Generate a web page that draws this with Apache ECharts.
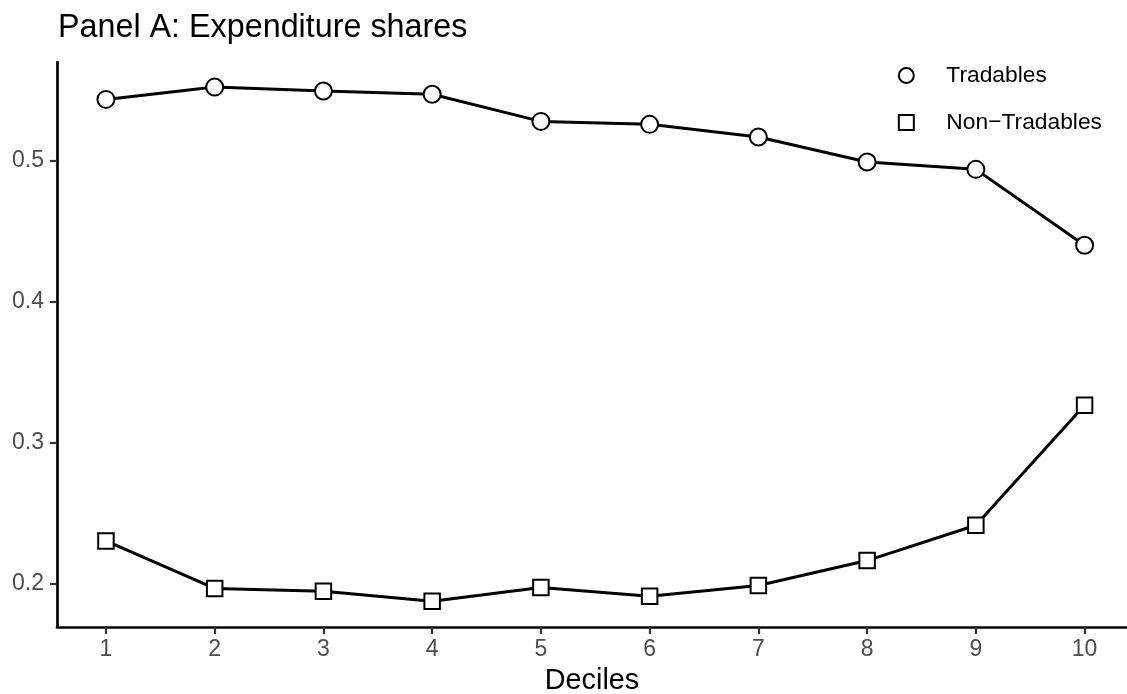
<!DOCTYPE html>
<html>
<head>
<meta charset="utf-8">
<script src="https://cdn.jsdelivr.net/npm/echarts@6/dist/echarts.min.js"></script>
<style>
html,body{margin:0;padding:0;background:#fff;overflow:hidden;}
#chart{width:1127px;height:694px;}
</style>
</head>
<body>
<div id="chart"></div>
<script>
const titleText = 'Panel A: Expenditure shares';
const xAxisTitle = 'Deciles';
const deciles = [1, 2, 3, 4, 5, 6, 7, 8, 9, 10];
const tradables = [0.5432, 0.5519, 0.5491, 0.5468, 0.5276, 0.5255, 0.5165, 0.4988, 0.4936, 0.4398];
const nonTradables = [0.2302, 0.1965, 0.1945, 0.1875, 0.1972, 0.1910, 0.1986, 0.2163, 0.2413, 0.3264];
const seriesNames = ['Tradables', 'Non\u2212Tradables'];
const xTicks = [1, 2, 3, 4, 5, 6, 7, 8, 9, 10];
const yTicks = [0.2, 0.3, 0.4, 0.5];

const FONT = '"Liberation Sans", Arial, Helvetica, sans-serif';
const markerStyle = { color: '#ffffff', borderColor: '#000000', borderWidth: 2 };

const chart = echarts.init(document.getElementById('chart'), null, { renderer: 'canvas' });
chart.setOption({
  animation: false,
  backgroundColor: '#ffffff',
  textStyle: { fontFamily: FONT },
  title: {
    text: titleText,
    left: 58,
    top: 12,
    padding: 0,
    textStyle: { fontFamily: FONT, fontSize: 32.3, fontWeight: 'normal', color: '#000000' }
  },
  legend: {
    orient: 'vertical',
    right: 20,
    top: 59,
    itemWidth: 70,
    itemHeight: 15,
    itemGap: 24,
    selectedMode: false,
    textStyle: { fontFamily: FONT, fontSize: 22.8, color: '#000000' },
    data: [
      { name: seriesNames[0], icon: 'circle', itemStyle: markerStyle },
      { name: seriesNames[1], icon: 'path://M0,0H10V10H0Z', itemStyle: markerStyle }
    ]
  },
  grid: { left: 57, right: 0, top: 62, height: 565, containLabel: false, outerBoundsMode: 'none' },
  xAxis: {
    type: 'value',
    min: 0.55,
    max: 10.39,
    name: xAxisTitle,
    nameLocation: 'middle',
    nameGap: 40,
    nameTextStyle: { fontFamily: FONT, fontSize: 28.8, color: '#000000' },
    axisLine: { show: true, onZero: false, lineStyle: { color: '#000000', width: 2.7 } },
    axisTick: { show: true, length: 7, customValues: xTicks, lineStyle: { color: '#333333', width: 2.2 } },
    axisLabel: { customValues: xTicks, margin: 11, fontFamily: FONT, fontSize: 23, color: '#4D4D4D' },
    splitLine: { show: false }
  },
  yAxis: {
    type: 'value',
    min: 0.1692,
    max: 0.5697,
    axisLine: { show: true, onZero: false, lineStyle: { color: '#000000', width: 2.7 } },
    axisTick: { show: true, length: 7, customValues: yTicks, lineStyle: { color: '#333333', width: 2.2 } },
    axisLabel: { customValues: yTicks, margin: 13, fontFamily: FONT, fontSize: 23, color: '#4D4D4D',
      padding: [5, 0, 0, 0], formatter: v => v.toFixed(1) },
    splitLine: { show: false }
  },
  series: [
    {
      name: seriesNames[0],
      type: 'line',
      data: deciles.map((d, i) => [d, tradables[i]]),
      symbol: 'circle',
      symbolSize: 17,
      itemStyle: markerStyle,
      lineStyle: { color: '#000000', width: 3 },
      emphasis: { disabled: true }
    },
    {
      name: seriesNames[1],
      type: 'line',
      data: deciles.map((d, i) => [d, nonTradables[i]]),
      symbol: 'rect',
      symbolSize: 15.5,
      itemStyle: markerStyle,
      lineStyle: { color: '#000000', width: 3 },
      emphasis: { disabled: true }
    }
  ]
});
</script>
</body>
</html>
